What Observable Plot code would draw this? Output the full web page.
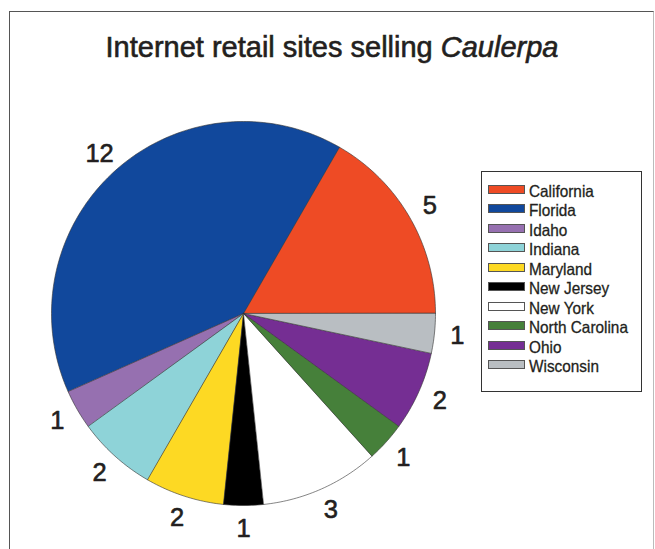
<!DOCTYPE html>
<html>
<head>
<meta charset="utf-8">
<script src="https://cdn.jsdelivr.net/npm/d3@7"></script>
<script src="https://cdn.jsdelivr.net/npm/@observablehq/plot@0.6"></script>
<style>
  body { margin: 0; background: #fff; font-family: "Liberation Sans", Arial, sans-serif; }
  #page { position: relative; width: 655px; height: 549px; overflow: hidden; background: #fff; }
  #frame { position: absolute; left: 9px; top: 11px; width: 643px; height: 580px;
           border-left: 1.5px solid #555; border-top: 1.5px solid #555; border-right: 1px solid #bbb; }
  #title { position: absolute; left: 9px; width: 646px; top: 30px; line-height: 34px;
           text-align: center; font-size: 29px; color: #231f20; white-space: nowrap;
           -webkit-text-stroke: 0.6px #231f20; }
  #chart { position: absolute; left: 3px; top: 73px; }
  #legend { position: absolute; left: 481px; top: 171px; width: 161px; height: 221px;
            border: 1px solid #333; background: #fff; box-sizing: border-box; }
  .sw { position: absolute; left: 6px; width: 37px; height: 9px; box-sizing: border-box;
        border: 1px solid #555; }
  .lt { position: absolute; left: 47px; font-size: 16.5px; line-height: 20px; color: #231f20;
        white-space: nowrap; transform: scaleX(0.93); transform-origin: left center;
        -webkit-text-stroke: 0.3px #231f20; }
</style>
</head>
<body>
<div id="page">
  <div id="frame"></div>
  <div id="title">Internet retail sites selling <i>Caulerpa</i></div>
  <div id="chart"></div>
  <div id="legend"></div>
</div>
<script>
const states = ["California", "Florida", "Idaho", "Indiana", "Maryland", "New Jersey", "New York", "North Carolina", "Ohio", "Wisconsin"];
const counts = [5, 12, 1, 2, 2, 1, 3, 1, 2, 1];
const colors = ["#ee4b25", "#11489c", "#9670b0", "#8ed3d8", "#fdd923", "#000000", "#ffffff", "#46803a", "#752e93", "#b9bec2"];

// slices, counterclockwise from 3 o'clock
const arcs = d3.pie().sort(null).value(d => d)(counts);
const features = arcs.map((a, i) => {
  const ring = [[0, 0]];
  const n = Math.max(2, Math.ceil((a.endAngle - a.startAngle) / (Math.PI / 180)));
  for (let k = 0; k <= n; k++) {
    const t = a.startAngle + (a.endAngle - a.startAngle) * k / n;
    ring.push([Math.cos(t), Math.sin(t)]);
  }
  ring.push([0, 0]);
  return {type: "Feature", properties: {state: states[i]}, geometry: {type: "Polygon", coordinates: [ring]}};
});
const labels = arcs.map((a, i) => {
  const m = (a.startAngle + a.endAngle) / 2;
  return {x: 1.12 * Math.cos(m), y: 1.12 * Math.sin(m), text: String(counts[i])};
});

const svg = Plot.plot({
  width: 480,
  height: 480,
  margin: 0,
  style: {fontFamily: "Liberation Sans, Arial, sans-serif", background: "transparent"},
  projection: {type: "reflect-y", domain: {type: "MultiPoint", coordinates: [[-1.25, -1.25], [1.25, 1.25]]}},
  color: {domain: states, range: colors},
  marks: [
    Plot.geo(features, {fill: d => d.properties.state, stroke: "#333", strokeWidth: 0.6}),
    Plot.text(labels, {x: "x", y: "y", text: "text", fontSize: 25.5, fill: "#231f20",
                       stroke: "#231f20", strokeWidth: 0.6, textAnchor: "middle"})
  ]
});
document.getElementById("chart").appendChild(svg);

const legend = document.getElementById("legend");
states.forEach((s, i) => {
  const sw = document.createElement("div");
  sw.className = "sw";
  sw.style.top = (12.5 + i * 19.5) + "px";
  sw.style.background = colors[i];
  legend.appendChild(sw);
  const t = document.createElement("div");
  t.className = "lt";
  t.style.top = (8.5 + i * 19.5) + "px";
  t.textContent = s;
  legend.appendChild(t);
});
</script>
</body>
</html>
